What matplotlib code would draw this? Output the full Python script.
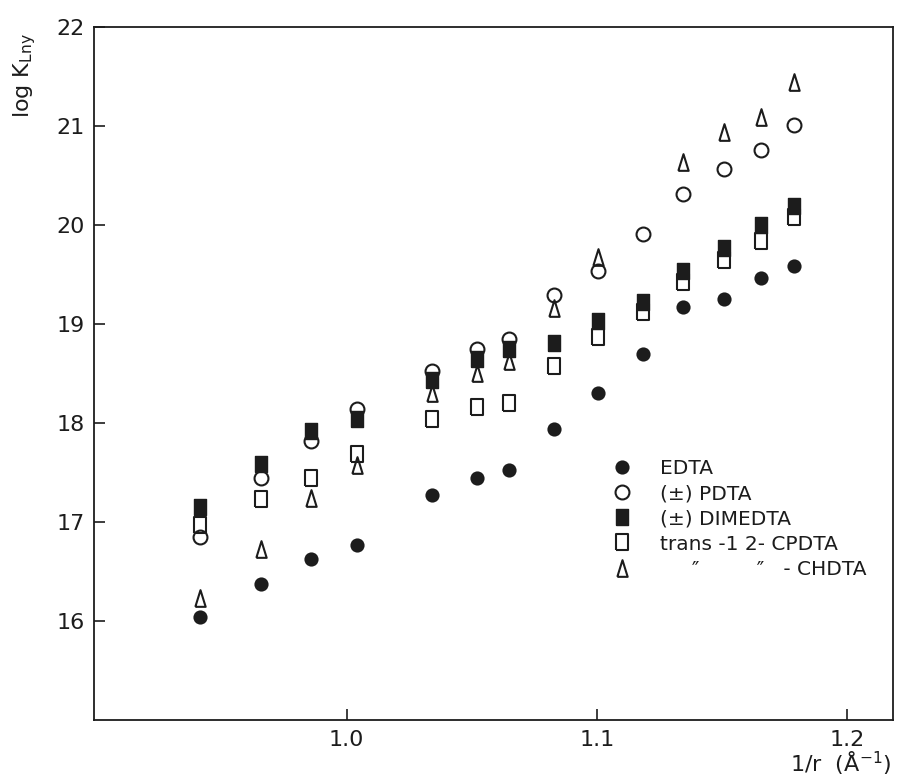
import matplotlib
matplotlib.use('Agg')
import matplotlib.pyplot as plt
import numpy as np

# reciprocal ionic radius, 1/r (1/Angstrom)
inv_r = [0.9412, 0.9656, 0.9856, 1.0043, 1.0341, 1.0523, 1.0648,
         1.0828, 1.1005, 1.1185, 1.1346, 1.1510, 1.1655, 1.1788]

# log K values per ligand
edta = [16.04, 16.37, 16.63, 16.77, 17.27, 17.44, 17.53,
        17.94, 18.30, 18.70, 19.17, 19.25, 19.46, 19.59]
pdta = [16.85, 17.44, 17.82, 18.14, 18.53, 18.75, 18.85,
        19.29, 19.54, 19.91, 20.31, 20.57, 20.76, 21.01]
dimedta = [17.15, 17.59, 17.92, 18.04, 18.43, 18.65, 18.75,
           18.81, 19.03, 19.22, 19.54, 19.77, 20.00, 20.19]
cpdta = [16.97, 17.23, 17.44, 17.69, 18.04, 18.16, 18.20,
         18.58, 18.87, 19.12, 19.42, 19.65, 19.84, 20.08]
chdta = [16.23, 16.73, 17.24, 17.58, 18.30, 18.50, 18.63,
         19.16, 19.68, np.nan, 20.64, 20.94, 21.09, 21.44]

labels = ['EDTA', '(\u00b1) PDTA', '(\u00b1) DIMEDTA', 'trans -1 2- CPDTA',
          '     \u2033         \u2033   - CHDTA']

ink = '#1c1c1c'
rect = [(-0.72, -1), (0.72, -1), (0.72, 1), (-0.72, 1), (-0.72, -1)]
tri = [(-0.62, -1), (0.62, -1), (0, 1), (-0.62, -1)]

plt.rcParams['font.family'] = 'DejaVu Sans'

fig = plt.figure(figsize=(8.99, 7.76), dpi=100)
ax = fig.add_axes([0.1046, 0.0722, 0.8887, 0.893])

ax.plot(inv_r, edta, 'o', ms=9, color=ink, mec=ink, mew=1.2, label=labels[0])
ax.plot(inv_r, pdta, 'o', ms=10, mfc='white', mec=ink, mew=1.5, label=labels[1])
ax.plot(inv_r, dimedta, marker=rect, ls='none', ms=12, color=ink, mec=ink, label=labels[2])
ax.plot(inv_r, cpdta, marker=rect, ls='none', ms=12, mfc='none', mec=ink, mew=1.5, label=labels[3])
ax.plot(inv_r, chdta, marker=tri, ls='none', ms=12, mfc='none', mec=ink, mew=1.5, label=labels[4])

ax.set_xlim(0.899, 1.2184)
ax.set_ylim(15, 22)
ax.set_xticks([1.0, 1.1, 1.2])
ax.set_xticklabels(['1.0', '1.1', '1.2'])
ax.set_yticks([16, 17, 18, 19, 20, 21, 22])
ax.tick_params(direction='in', length=8, width=1.2, labelsize=16, color=ink,
               labelcolor=ink, pad=7)
for s in ax.spines.values():
    s.set_linewidth(1.3)
    s.set_color(ink)

ax.set_ylabel('log K$_{\\mathregular{Lny}}$', fontsize=16, color=ink)
ax.yaxis.set_label_coords(-0.07, 0.93)
ax.text(0.935, -0.062, '1/r  (\u00c5$^{-1}$)', transform=ax.transAxes,
        fontsize=16, color=ink, ha='center', va='center')

ax.legend(loc='upper left', bbox_to_anchor=(0.648, 0.376), frameon=False,
          fontsize=14.5, handlelength=1.0, handletextpad=1.4, labelspacing=0.3,
          borderpad=0, borderaxespad=0, labelcolor=ink)

plt.savefig('out.png', dpi=100)
plt.close()
